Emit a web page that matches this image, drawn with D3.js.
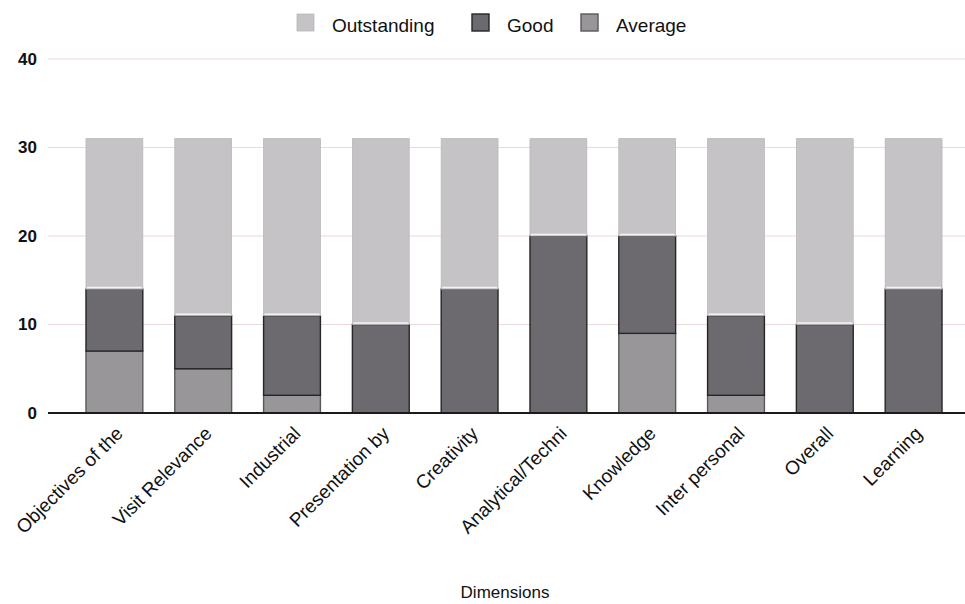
<!DOCTYPE html>
<html><head><meta charset="utf-8">
<script src="https://cdn.jsdelivr.net/npm/d3@7"></script>
<style>body{margin:0;background:#fff}svg{display:block}text{font-family:"Liberation Sans",Arial,sans-serif}</style>
</head><body><svg id="c" width="965" height="604"></svg>
<script>
const categories = ["Objectives of the","Visit Relevance","Industrial","Presentation by","Creativity","Analytical/Techni","Knowledge","Inter personal","Overall","Learning"];
const average = [7,5,2,0,0,0,9,2,0,0];
const good = [7,6,9,10,14,20,11,9,10,14];
const outstanding = [17,20,20,21,17,11,11,20,21,17];
const yTicks = [0,10,20,30,40];
const seriesNames = ["Average","Good","Outstanding"];
const legendOrder = ["Outstanding","Good","Average"];
const colors = {Outstanding:"#c6c3c6", Good:"#6c6a6e", Average:"#999699"};
const strokes = {Outstanding:"#bab7ba", Good:"#262626", Average:"#5a585b"};

const svg = d3.select("#c");
const x = d3.scaleBand().domain(categories).range([70,958]).paddingInner(0.36).paddingOuter(0.18);
const y = d3.scaleLinear().domain([0,40]).range([413,59]);

const rows = categories.map((c,i)=>({cat:c, Average:average[i], Good:good[i], Outstanding:outstanding[i]}));
const stacked = d3.stack().keys(seriesNames)(rows);

// gridlines
svg.append("g").selectAll("line").data(yTicks.filter(t=>t>0)).join("line")
  .attr("x1",48).attr("x2",965).attr("y1",d=>y(d)).attr("y2",d=>y(d))
  .attr("stroke","#ebd8d8").attr("stroke-width",1.2);

// y axis labels
const ya = svg.append("g").attr("transform","translate(37,0)")
  .call(d3.axisLeft(y).tickValues(yTicks).tickSize(0).tickPadding(0));
ya.select(".domain").remove();
ya.selectAll("text").attr("font-size",17).attr("fill","#111").attr("font-weight","bold")
  .attr("font-family","Liberation Sans, Arial, sans-serif");

// bars
svg.append("g").selectAll("g").data(stacked).join("g")
  .attr("fill",d=>colors[d.key]).attr("stroke",d=>strokes[d.key]).attr("stroke-width",d=>d.key==="Outstanding"?0.8:1.4)
  .selectAll("rect").data(d=>d.filter(s=>s[1]-s[0]>0)).join("rect")
  .attr("x",d=>x(d.data.cat)).attr("width",x.bandwidth())
  .attr("y",d=>y(d[1])).attr("height",d=>y(d[0])-y(d[1]));

// white separator between good and outstanding
svg.append("g").selectAll("line").data(stacked[2]).join("line")
  .attr("x1",d=>x(d.data.cat)+1).attr("x2",d=>x(d.data.cat)+x.bandwidth()-1)
  .attr("y1",d=>y(d[0])-1.5).attr("y2",d=>y(d[0])-1.5)
  .attr("stroke","#f4f4f4").attr("stroke-width",1.5);

// baseline
svg.append("line").attr("x1",48).attr("x2",965).attr("y1",y(0)).attr("y2",y(0))
  .attr("stroke","#1a1a1a").attr("stroke-width",2.2);

// x axis labels
const xa = svg.append("g").attr("transform",`translate(0,${y(0)+17})`)
  .call(d3.axisBottom(x).tickSize(0).tickPadding(0));
xa.select(".domain").remove();
xa.selectAll("text").attr("font-size",19).attr("fill","#111")
  .attr("font-family","Liberation Sans, Arial, sans-serif")
  .attr("text-anchor","end").attr("dy","0.35em")
  .attr("transform","translate(5,0) rotate(-45)");

// axis title
svg.append("text").attr("x",505).attr("y",598).attr("text-anchor","middle")
  .attr("font-size",17).attr("fill","#111").text("Dimensions");

// legend
const legX = {Outstanding:297, Good:472, Average:581};
const lg = svg.append("g").selectAll("g").data(legendOrder).join("g")
  .attr("transform",d=>`translate(${legX[d]},14)`);
lg.append("rect").attr("width",17).attr("height",17).attr("fill",d=>colors[d])
  .attr("stroke",d=>strokes[d]).attr("stroke-width",d=>d==="Outstanding"?0.8:1.4);
lg.append("text").attr("x",35).attr("y",18).attr("font-size",19).attr("fill","#111").text(d=>d);
</script></body></html>
